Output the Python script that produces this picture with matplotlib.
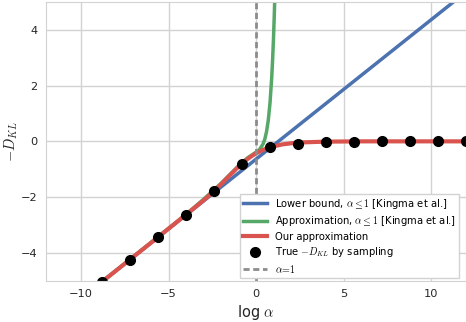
import matplotlib
matplotlib.use("Agg")
import matplotlib.pyplot as plt

# log alpha grid and curve values
blue_x = [-12, 12]
blue_y = [-6.64, 5.36]

green_x = [-12, -6, -4, -3, -2, -1, -0.5, 0, 0.2, 0.4, 0.5, 0.6, 0.7, 0.8, 0.9, 0.95, 1.0, 1.05, 1.1]
green_y = [-6.64, -3.63, -2.62, -2.08, -1.51, -0.88, -0.60, -0.39, -0.29, -0.10, 0.07, 0.34, 0.75,
           1.37, 2.31, 2.94, 3.70, 4.63, 5.74]

red_x = [-12, -9, -6, -4, -3, -2.5, -2, -1.5, -1, -0.5, -0.25, 0, 0.25, 0.5, 0.75, 1, 1.5, 2, 2.5, 3,
         4, 6, 8, 12]
red_y = [-6.64, -5.14, -3.64, -2.63, -2.12, -1.84, -1.54, -1.22, -0.91, -0.64, -0.53, -0.43, -0.35,
         -0.28, -0.22, -0.18, -0.11, -0.07, -0.04, -0.03, -0.01, 0.0, 0.0, 0.0]

dots_x = [-8.8, -7.2, -5.6, -4.0, -2.4, -0.8, 0.8, 2.4, 4.0, 5.6, 7.2, 8.8, 10.4, 12.0]
dots_y = [-5.04, -4.24, -3.44, -2.63, -1.78, -0.80, -0.20, -0.10, -0.02, -0.01, 0.0, 0.0, 0.0, 0.0]

plt.rcParams['mathtext.fontset'] = 'cm'
plt.rcParams['font.family'] = 'DejaVu Sans'

fig = plt.figure(figsize=(4.66, 3.22), dpi=100)
ax = fig.add_axes([46 / 466, 1 - 280.7 / 322, 420 / 466, 278.7 / 322])

ax.plot(blue_x, blue_y, color='#4C72B0', lw=2.5, label=r'Lower bound, $\alpha \leq 1$ [Kingma et al.]')
ax.plot(green_x, green_y, color='#55A868', lw=2.5, label=r'Approximation, $\alpha \leq 1$ [Kingma et al.]')
ax.plot(red_x, red_y, color='#D9544F', lw=3.0, label='Our approximation')
ax.plot(dots_x, dots_y, 'o', color='black', ms=7, label=r'True $-D_{KL}$ by sampling')
ax.axvline(0, color='#8c8c8c', lw=2.0, dashes=(2.2, 1.3), label=r'$\alpha\!=\!1$')

ax.set_xlim(-12, 12)
ax.set_ylim(-5, 5)
ax.set_xticks([-10, -5, 0, 5, 10])
ax.set_yticks([-4, -2, 0, 2, 4])
ax.grid(True, color='#d2d2d2', lw=1)
ax.set_axisbelow(True)
for s in ax.spines.values():
    s.set_color('#d2d2d2')
ax.tick_params(length=0, labelsize=8.2, pad=6, colors='#262626')

ax.set_xlabel(r'log $\alpha$', fontsize=10.5, color='#262626', labelpad=3)
ax.set_ylabel(r'$-D_{KL}$', fontsize=10.5, color='#262626', labelpad=1)

leg = ax.legend(loc='lower right', bbox_to_anchor=(0.983, 0.01), borderaxespad=0, fontsize=7.2,
                frameon=True, fancybox=False, framealpha=1, edgecolor='#d2d2d2', numpoints=1,
                handlelength=2.4, labelspacing=0.35, borderpad=0.3)
leg.get_frame().set_linewidth(1)

fig.savefig('out.png', dpi=100)
